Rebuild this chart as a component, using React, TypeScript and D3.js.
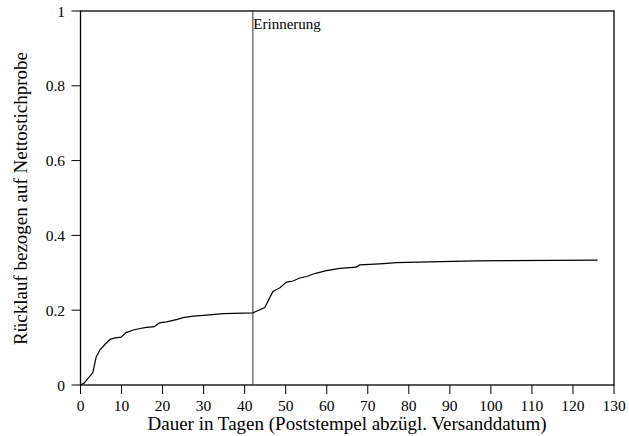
import React from "react";
import * as d3 from "d3";

const days = [0, 0.9, 3, 3.8, 4.75, 6, 7.2, 8.4, 9.9, 11.1, 12.9, 14.5, 16.1, 18, 19.2, 21, 23.8, 25, 27.5, 30.7, 34.8, 42,
  44.9, 46.9, 48.6, 50.2, 51.8, 53.4, 55.1, 57.1, 59.9, 63.2, 67.2, 68, 72.9, 77, 85.1, 96.4, 126];
const ruecklauf = [0, 0.005, 0.033, 0.074, 0.094, 0.109, 0.122, 0.126, 0.128, 0.14, 0.147, 0.151, 0.154, 0.156, 0.166, 0.169, 0.176, 0.18, 0.184, 0.187, 0.191, 0.193,
  0.207, 0.25, 0.26, 0.275, 0.278, 0.286, 0.29, 0.298, 0.306, 0.312, 0.315, 0.321, 0.324, 0.327, 0.329, 0.332, 0.334];
const xTicks = [0, 10, 20, 30, 40, 50, 60, 70, 80, 90, 100, 110, 120, 130];
const yTicks = [0, 0.2, 0.4, 0.6, 0.8, 1];
const reminderDay = 42;
const reminderLabel = "Erinnerung";
const xTitle = "Dauer in Tagen (Poststempel abzügl. Versanddatum)";
const yTitle = "Rücklauf bezogen auf Nettostichprobe";

export default function App() {
  const W = 629, H = 436;
  const left = 80.5, right = 614, top = 11, bottom = 385;
  const x = d3.scaleLinear().domain([0, 130]).range([left, right]);
  const y = d3.scaleLinear().domain([0, 1]).range([bottom, top]);
  const line = d3.line<number>().x((_, i) => x(days[i])).y((v) => y(v));
  const font = "'Liberation Serif', 'Times New Roman', serif";
  return (
    <svg width={W} height={H} style={{ position: "absolute", left: 0, top: 0, background: "#fff" }}>
      <rect x={left} y={top} width={right - left} height={bottom - top} fill="none" stroke="#000" strokeWidth={1.3} />
      {xTicks.map((t) => (
        <g key={"x" + t}>
          <line x1={x(t)} x2={x(t)} y1={bottom} y2={bottom + 9} stroke="#000" strokeWidth={1} />
          <text x={x(t)} y={bottom + 26} textAnchor="middle" fontFamily={font} fontSize={15.5}>{t}</text>
        </g>
      ))}
      {yTicks.map((t) => (
        <g key={"y" + t}>
          <line x1={left - 9} x2={left} y1={y(t)} y2={y(t)} stroke="#000" strokeWidth={1} />
          <text x={left - 15.5} y={y(t) + 5.5} textAnchor="end" fontFamily={font} fontSize={15.5}>{t}</text>
        </g>
      ))}
      <line x1={x(reminderDay)} x2={x(reminderDay)} y1={top} y2={bottom} stroke="#333" strokeWidth={1} />
      <text x={x(reminderDay) + 0.5} y={top + 17.5} fontFamily={font} fontSize={15}>{reminderLabel}</text>
      <path d={line(ruecklauf) || ""} fill="none" stroke="#000" strokeWidth={1.2} />
      <text x={347} y={430} textAnchor="middle" fontFamily={font} fontSize={19}>{xTitle}</text>
      <text transform={`translate(27,198.5) rotate(-90)`} textAnchor="middle" fontFamily={font} fontSize={19}>{yTitle}</text>
    </svg>
  );
}
